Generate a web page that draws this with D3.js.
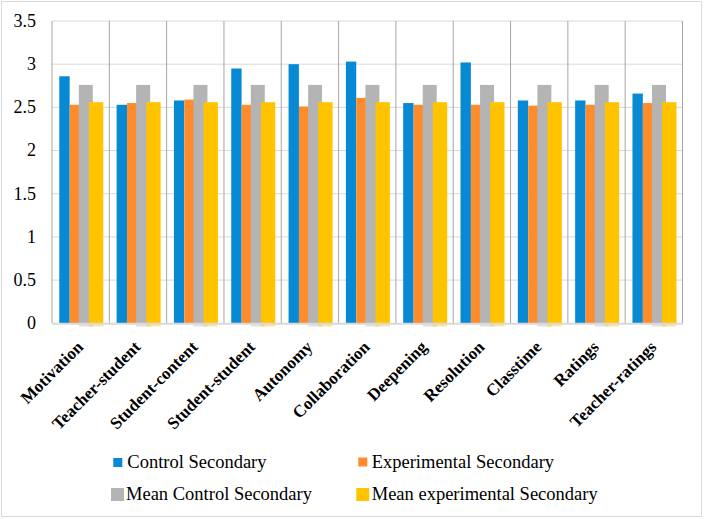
<!DOCTYPE html>
<html>
<head>
<meta charset="utf-8">
<script src="https://cdn.jsdelivr.net/npm/d3@7/dist/d3.min.js"></script>
<style>
  html, body { margin: 0; padding: 0; background: #fff; }
  svg { display: block; }
</style>
</head>
<body>
<svg id="chart" width="704" height="519"></svg>
<script>
const categories = ["Motivation", "Teacher-student", "Student-content", "Student-student", "Autonomy",
  "Collaboration", "Deepening", "Resolution", "Classtime", "Ratings", "Teacher-ratings"];
const controlSecondary      = [2.86, 2.53, 2.58, 2.95, 3.00, 3.03, 2.55, 3.02, 2.58, 2.58, 2.66];
const experimentalSecondary = [2.53, 2.55, 2.59, 2.53, 2.51, 2.61, 2.53, 2.53, 2.52, 2.53, 2.55];
const meanControlSecondary      = [2.76, 2.76, 2.76, 2.76, 2.76, 2.76, 2.76, 2.76, 2.76, 2.76, 2.76];
const meanExperimentalSecondary = [2.56, 2.56, 2.56, 2.56, 2.56, 2.56, 2.56, 2.56, 2.56, 2.56, 2.56];
const yTicks = [0, 0.5, 1, 1.5, 2, 2.5, 3, 3.5];
const seriesNames = ["Control Secondary", "Experimental Secondary", "Mean Control Secondary", "Mean experimental Secondary"];

const FONT = "Liberation Serif";
const colors = ["#0789d3", "#fe8b2c", "#b4b4b4", "#ffc300"];
const svg = d3.select("#chart");

// outer frame
svg.append("rect").attr("x", 1.5).attr("y", 1.5).attr("width", 700).attr("height", 515)
  .attr("fill", "none").attr("stroke", "#d9d9d9").attr("stroke-width", 1);

const plot = { left: 52, right: 682.5, top: 21, bottom: 323.3 };

const x = d3.scaleBand().domain(categories).range([plot.left, plot.right]).padding(0);
const y = d3.scaleLinear().domain([0, 3.5]).range([plot.bottom, plot.top]);
const bw = x.bandwidth();

// horizontal gridlines
svg.append("g").selectAll("line").data(yTicks.filter(t => t > 0)).join("line")
  .attr("x1", plot.left).attr("x2", plot.right)
  .attr("y1", d => y(d)).attr("y2", d => y(d))
  .attr("stroke", "#d9d9d9").attr("stroke-width", 1);

// vertical category separators
const seps = categories.map(c => x(c)).concat([plot.right]);
svg.append("g").selectAll("line").data(seps).join("line")
  .attr("x1", d => d).attr("x2", d => d)
  .attr("y1", plot.top).attr("y2", plot.bottom)
  .attr("stroke", "#a6a6a6").attr("stroke-width", 1);

// bar layout within a category (fractions of band)
const offsets = [0.127, 0.309, 0.468, 0.644];
const widths  = [0.181, 0.181, 0.244, 0.251];
const allSeries = [controlSecondary, experimentalSecondary, meanControlSecondary, meanExperimentalSecondary];

allSeries.forEach((vals, si) => {
  const g = svg.append("g");
  g.selectAll("rect.bar").data(vals).join("rect")
    .attr("class", "bar")
    .attr("x", (d, i) => x(categories[i]) + offsets[si] * bw)
    .attr("width", widths[si] * bw)
    .attr("y", d => y(d))
    .attr("height", d => y(0) - y(d))
    .attr("fill", colors[si]);
  if (si >= 2) {
    g.selectAll("rect.ext").data(vals).join("rect")
      .attr("class", "ext")
      .attr("x", (d, i) => x(categories[i]) + offsets[si] * bw)
      .attr("width", widths[si] * bw)
      .attr("y", y(0))
      .attr("height", 3.2)
      .attr("fill", colors[si]).attr("opacity", 0.4);
  }
});

// baseline
svg.append("line").attr("x1", plot.left).attr("x2", plot.right)
  .attr("y1", y(0) + 0.5).attr("y2", y(0) + 0.5)
  .attr("stroke", "#d9d9d9").attr("stroke-width", 2);

// y tick labels
svg.append("g").selectAll("text").data(yTicks).join("text")
  .attr("x", 36).attr("y", d => y(d))
  .attr("dy", "0.33em")
  .attr("text-anchor", "end")
  .attr("font-family", FONT)
  .attr("font-size", "18px")
  .attr("fill", "#000")
  .text(d => d);

// category labels
svg.append("g").selectAll("text").data(categories).join("text")
  .attr("transform", d => `translate(${x(d) + bw / 2 + 3.5},348) rotate(-45)`)
  .attr("text-anchor", "end")
  .attr("font-family", FONT)
  .attr("font-size", "17px")
  .attr("font-weight", "bold")
  .attr("fill", "#000")
  .text(d => d);

// legend
const legendItems = [
  { name: seriesNames[0], color: colors[0], sx: 113.3, sy: 458, s: 9, tx: 127.3, ty: 468 },
  { name: seriesNames[1], color: colors[1], sx: 358.3, sy: 457.5, s: 9, tx: 371.7, ty: 468 },
  { name: seriesNames[2], color: colors[2], sx: 111, sy: 488, s: 13, tx: 126, ty: 499.5 },
  { name: seriesNames[3], color: colors[3], sx: 356.3, sy: 488, s: 13, tx: 371.7, ty: 499.5 }
];
const lg = svg.append("g");
legendItems.forEach(it => {
  lg.append("rect").attr("x", it.sx).attr("y", it.sy).attr("width", it.s).attr("height", it.s).attr("fill", it.color);
  lg.append("text").attr("x", it.tx).attr("y", it.ty)
    .attr("font-family", FONT).attr("font-size", "18.5px").attr("fill", "#000").text(it.name);
});
</script>
</body>
</html>
